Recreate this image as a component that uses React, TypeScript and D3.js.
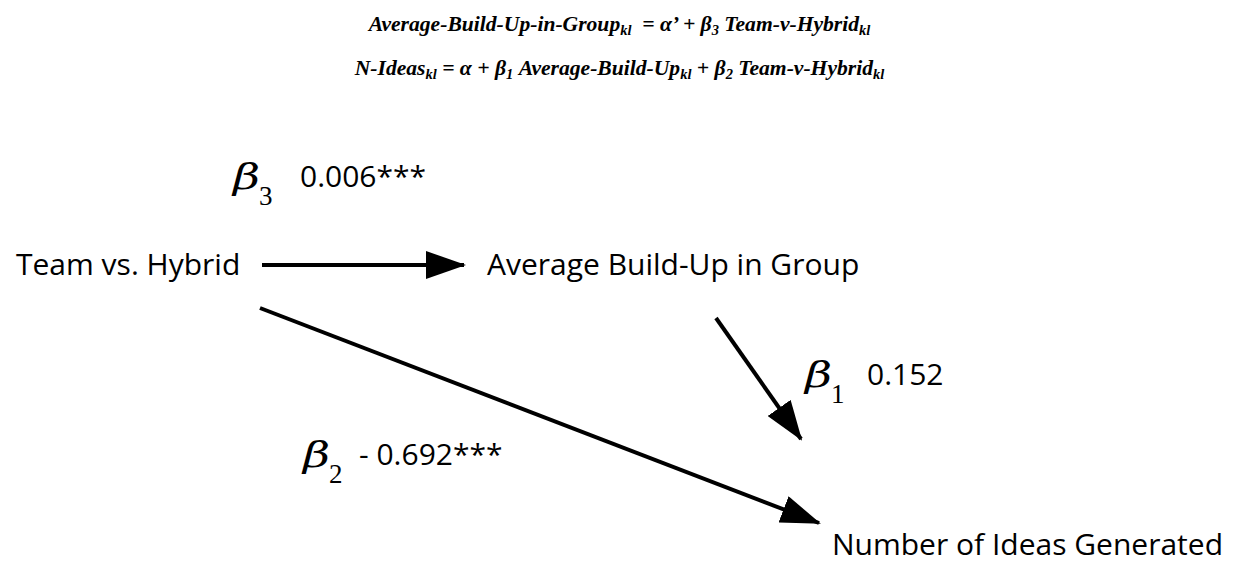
import React, {useEffect, useRef} from 'react'
import * as d3 from 'd3';

// variables in the path model
const nodeNames = ['Team vs. Hybrid', 'Average Build-Up in Group', 'Number of Ideas Generated'];
// paths: from -> to, coefficient name and estimate
const pathFrom = [0, 1, 0];
const pathTo = [1, 2, 2];
const betaIndex = ['3', '1', '2'];
const estimates = ['0.006***', '0.152', '- 0.692***'];

// regression equations, [text, isSubscript]
const equation1: [string, boolean][] = [
    ['Average-Build-Up-in-Group', false], ['kl', true], ['  = α’ + β', false], ['3', true],
    [' Team-v-Hybrid', false], ['kl', true]
];
const equation2: [string, boolean][] = [
    ['N-Ideas', false], ['kl', true], [' = α + β', false], ['1', true], [' Average-Build-Up', false],
    ['kl', true], [' + β', false], ['2', true], [' Team-v-Hybrid', false], ['kl', true]
];

const W = 1239;
const H = 580;

// layout of the diagram (pixel space)
const nodeBox = [
    {x: 16, y: 275},
    {x: 487, y: 275},
    {x: 832, y: 555},
];
const arrowPts = [
    {x1: 262, y1: 265, x2: 464, y2: 265},
    {x1: 716, y1: 318, x2: 801, y2: 439},
    {x1: 260, y1: 308, x2: 819, y2: 523},
];
const labelPos = [
    {x: 233, y: 187, vx: 67},
    {x: 805, y: 385, vx: 62},
    {x: 303, y: 465, vx: 56},
];

export default function App(){
    const svgRef = useRef(null);

    useEffect(() => {
        const svg = d3.select(svgRef.current);
        svg.selectAll("*").remove();

        svg.append('defs').append('marker')
            .attr('id', 'head')
            .attr('viewBox', '0 0 10 10')
            .attr('refX', 9.5)
            .attr('refY', 5)
            .attr('markerUnits', 'userSpaceOnUse')
            .attr('markerWidth', 40)
            .attr('markerHeight', 28)
            .attr('orient', 'auto')
            .attr('preserveAspectRatio', 'none')
            .append('path')
            .attr('d', 'M0,0 L10,5 L0,10 z')
            .attr('fill', 'black');

        const drawEq = (parts: [string, boolean][], y: number) => {
            const t = svg.append('text')
                .attr('x', W / 2)
                .attr('y', y)
                .attr('text-anchor', 'middle')
                .attr('font-family', '"Liberation Serif", serif')
                .attr('font-weight', 'bold')
                .attr('font-style', 'italic')
                .attr('font-size', 21.6)
                .attr('xml:space', 'preserve')
                .style('white-space', 'pre');
            parts.forEach(([s, sub]) => {
                const ts = t.append('tspan').text(s);
                if (sub) ts.attr('baseline-shift', '-28%').attr('font-size', 14.5);
            });
        };
        drawEq(equation1, 31);
        drawEq(equation2, 75);

        const sans = '"Open Sans", sans-serif';

        svg.append('g')
            .selectAll('text')
            .data(nodeNames)
            .join('text')
            .attr('x', (d, i) => nodeBox[i].x)
            .attr('y', (d, i) => nodeBox[i].y)
            .attr('font-family', sans)
            .attr('font-size', 30)
            .attr('fill', 'black')
            .text(d => d);

        svg.append('g')
            .selectAll('line')
            .data(pathFrom)
            .join('line')
            .attr('x1', (d, i) => arrowPts[i].x1)
            .attr('y1', (d, i) => arrowPts[i].y1)
            .attr('x2', (d, i) => arrowPts[i].x2)
            .attr('y2', (d, i) => arrowPts[i].y2)
            .attr('stroke', 'black')
            .attr('stroke-width', 4)
            .attr('marker-end', 'url(#head)');

        const lab = svg.append('g')
            .selectAll('g')
            .data(estimates)
            .join('g')
            .attr('transform', (d, i) => `translate(${labelPos[i].x},${labelPos[i].y})`);

        lab.append('text')
            .attr('transform', 'translate(0,2) scale(1.3,1)')
            .attr('font-family', '"DejaVu Serif", serif')
            .attr('font-style', 'italic')
            .attr('font-size', 36)
            .text('β');
        lab.append('text')
            .attr('x', 26)
            .attr('y', 18)
            .attr('font-family', '"Liberation Serif", serif')
            .attr('font-size', 27)
            .text((d, i) => betaIndex[i]);
        lab.append('text')
            .attr('x', (d, i) => labelPos[i].vx)
            .attr('y', 0)
            .attr('font-family', sans)
            .attr('font-size', 30)
            .text(d => d);
    });

    return (
        <svg
            ref={svgRef}
            width={W}
            height={H}
            style={{position: 'absolute', left: 0, top: 0, background: 'white'}}
        >
        </svg>
    );
}
